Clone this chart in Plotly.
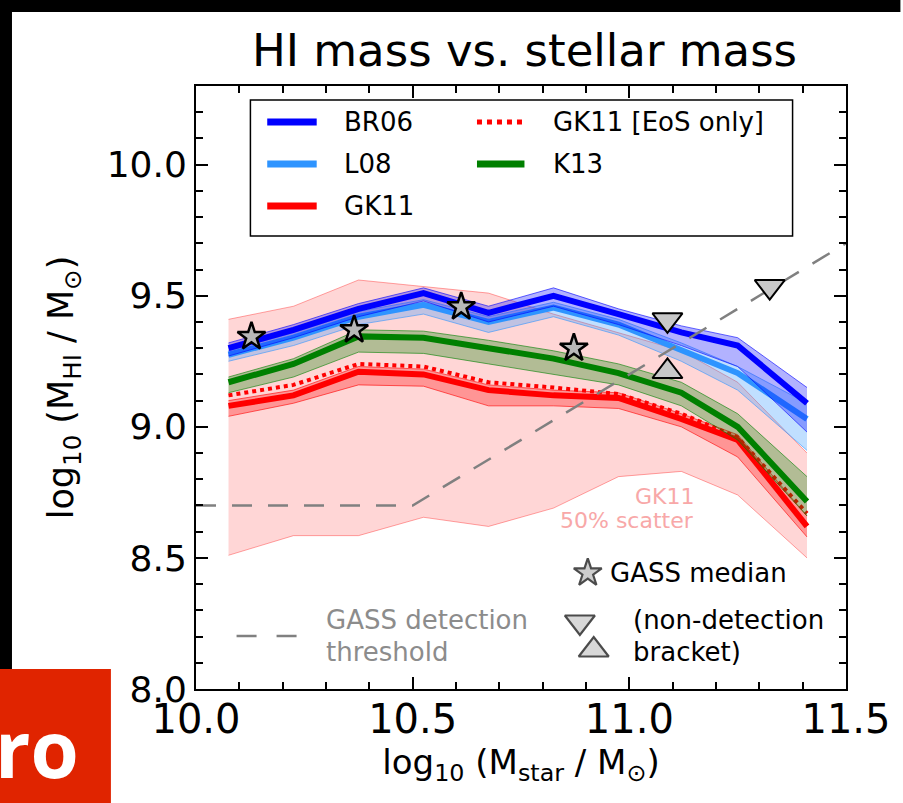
import plotly.graph_objects as go

# ---------------- data ----------------
mstar_bins = [10.075, 10.225, 10.375, 10.525, 10.675, 10.825, 10.975, 11.12, 11.25, 11.41]

gk11_scatter_hi = [9.41, 9.46, 9.56, 9.535, 9.51, 9.43, 9.36, 9.29, 9.17, 8.90]
gk11_scatter_lo = [8.51, 8.585, 8.585, 8.655, 8.62, 8.69, 8.81, 8.83, 8.74, 8.50]

gk11_med = [9.08, 9.12, 9.21, 9.20, 9.14, 9.12, 9.11, 9.03, 8.95, 8.62]
gk11_hi = [9.10, 9.14, 9.23, 9.22, 9.16, 9.14, 9.13, 9.05, 8.97, 8.66]
gk11_lo = [9.04, 9.09, 9.16, 9.155, 9.08, 9.08, 9.07, 9.00, 8.885, 8.58]

gk11_eos = [9.12, 9.16, 9.24, 9.23, 9.17, 9.15, 9.125, 9.05, 8.96, 8.67]

k13_med = [9.17, 9.24, 9.345, 9.34, 9.30, 9.26, 9.205, 9.13, 9.00, 8.715]
k13_hi = [9.19, 9.26, 9.37, 9.365, 9.33, 9.29, 9.24, 9.17, 9.05, 8.81]
k13_lo = [9.13, 9.19, 9.285, 9.28, 9.24, 9.20, 9.16, 9.08, 8.95, 8.66]

l08_med = [9.275, 9.34, 9.42, 9.465, 9.40, 9.455, 9.39, 9.295, 9.205, 9.03]
l08_hi = [9.29, 9.36, 9.44, 9.485, 9.42, 9.475, 9.41, 9.32, 9.23, 9.09]
l08_lo = [9.25, 9.31, 9.39, 9.43, 9.36, 9.42, 9.35, 9.25, 9.14, 8.91]

br06_med = [9.30, 9.37, 9.45, 9.51, 9.435, 9.50, 9.43, 9.36, 9.31, 9.09]
br06_hi = [9.32, 9.39, 9.47, 9.53, 9.46, 9.53, 9.45, 9.385, 9.34, 9.15]
br06_lo = [9.27, 9.34, 9.42, 9.48, 9.40, 9.46, 9.39, 9.31, 9.23, 8.98]

gass_x = [10.128, 10.365, 10.612, 10.872]
gass_y = [9.344, 9.37, 9.458, 9.30]

nondet_hi_x = [11.088, 11.324]
nondet_hi_y = [9.408, 9.535]
nondet_lo_x = [11.088]
nondet_lo_y = [9.211]

thresh_x = [10.0, 10.5, 11.5]
thresh_y = [8.7, 8.7, 9.7]

x_ticks = [10.0, 10.5, 11.0, 11.5]
y_ticks = [8.0, 8.5, 9.0, 9.5, 10.0]

# ---------------- layout geometry (pixels) ----------------
W, H = 903, 803
L, R, T, B = 196, 853, 86, 689
FONT = "DejaVu Sans"


def px(x):
    return (x - L) / (R - L)


def py(y):
    return (B - y) / (B - T)


BLUE = "#0000ff"
LBLUE = "#2e94ff"
RED = "#ff0000"
GREEN = "#008000"
GRAY = "#808080"

fig = go.Figure()


def band(hi, lo, rgb, fill_a, edge_a):
    fig.add_trace(go.Scatter(x=mstar_bins, y=hi, mode="lines",
                             line=dict(color=f"rgba({rgb},{edge_a})", width=1),
                             showlegend=False, hoverinfo="skip"))
    fig.add_trace(go.Scatter(x=mstar_bins, y=lo, mode="lines", fill="tonexty",
                             fillcolor=f"rgba({rgb},{fill_a})",
                             line=dict(color=f"rgba({rgb},{edge_a})", width=1),
                             showlegend=False, hoverinfo="skip"))


# GK11 50% scatter
band(gk11_scatter_hi, gk11_scatter_lo, "255,0,0", 0.16, 0.35)
# GK11
band(gk11_hi, gk11_lo, "255,0,0", 0.3, 0.6)
fig.add_trace(go.Scatter(x=mstar_bins, y=gk11_med, mode="lines", name="GK11",
                         line=dict(color=RED, width=6), showlegend=False))
fig.add_trace(go.Scatter(x=mstar_bins, y=gk11_eos, mode="lines", name="GK11 [EoS only]",
                         line=dict(color=RED, width=4, dash="dot"), showlegend=False))
# K13
band(k13_hi, k13_lo, "0,128,0", 0.3, 0.6)
fig.add_trace(go.Scatter(x=mstar_bins, y=k13_med, mode="lines", name="K13",
                         line=dict(color=GREEN, width=6), showlegend=False))
# L08
band(l08_hi, l08_lo, "46,148,255", 0.3, 0.6)
fig.add_trace(go.Scatter(x=mstar_bins, y=l08_med, mode="lines", name="L08",
                         line=dict(color=LBLUE, width=6), showlegend=False))
# BR06
band(br06_hi, br06_lo, "0,0,255", 0.3, 0.6)
fig.add_trace(go.Scatter(x=mstar_bins, y=br06_med, mode="lines", name="BR06",
                         line=dict(color=BLUE, width=6), showlegend=False))

# GASS detection threshold
fig.add_trace(go.Scatter(x=thresh_x, y=thresh_y, mode="lines", name="GASS detection threshold",
                         line=dict(color=GRAY, width=2.5, dash="20px,16px"), showlegend=False))

# GASS medians and non-detection brackets
fig.add_trace(go.Scatter(x=gass_x, y=gass_y, mode="markers", name="GASS median",
                         marker=dict(symbol="star", size=21, color="#b8b8b8",
                                     line=dict(color="black", width=2.5)),
                         showlegend=False))
fig.add_trace(go.Scatter(x=nondet_hi_x, y=nondet_hi_y, mode="markers", name="non-detection (upper)",
                         marker=dict(symbol="triangle-down", size=26, color="#c8c8c8",
                                     line=dict(color="black", width=2)),
                         showlegend=False))
fig.add_trace(go.Scatter(x=nondet_lo_x, y=nondet_lo_y, mode="markers", name="non-detection (lower)",
                         marker=dict(symbol="triangle-up", size=26, color="#c8c8c8",
                                     line=dict(color="black", width=2)),
                         showlegend=False))

shapes = []
annotations = []

# ---- manual legend (top) ----
shapes.append(dict(type="rect", xref="paper", yref="paper",
                   x0=px(251), x1=px(799), y0=py(236), y1=py(100),
                   line=dict(color="black", width=1.5), fillcolor="white", layer="above"))
legend_items = [
    ("BR06", BLUE, "solid", 268, 318, 344, 122),
    ("L08", LBLUE, "solid", 268, 318, 344, 164),
    ("GK11", RED, "solid", 268, 318, 344, 206),
    ("GK11 [EoS only]", RED, "dot", 480, 528, 555, 122),
    ("K13", GREEN, "solid", 480, 528, 555, 164),
]
for name, col, dash, lx0, lx1, tx, yy in legend_items:
    shapes.append(dict(type="line", xref="paper", yref="paper",
                       x0=px(lx0), x1=px(lx1), y0=py(yy), y1=py(yy),
                       line=dict(color=col, width=5 if dash == "dot" else 7, dash=dash),
                       layer="above"))
    annotations.append(dict(xref="paper", yref="paper", x=px(tx), y=py(yy),
                            xanchor="left", yanchor="middle", text=name, showarrow=False,
                            font=dict(family=FONT, size=26, color="black")))

# ---- in-plot labels ----
annotations.append(dict(xref="paper", yref="paper", x=px(701), y=py(496), xanchor="right",
                        yanchor="middle", text="GK11", showarrow=False,
                        font=dict(family=FONT, size=22, color="#f8a8a8")))
annotations.append(dict(xref="paper", yref="paper", x=px(701), y=py(520), xanchor="right",
                        yanchor="middle", text="50% scatter", showarrow=False,
                        font=dict(family=FONT, size=22, color="#f8a8a8")))

# lower key
shapes.append(dict(type="line", xref="paper", yref="paper", x0=px(237), x1=px(298),
                   y0=py(636), y1=py(636),
                   line=dict(color=GRAY, width=2.5, dash="20px,20px")))
annotations.append(dict(xref="paper", yref="paper", x=px(325), y=py(620), xanchor="left",
                        yanchor="middle", text="GASS detection", showarrow=False,
                        font=dict(family=FONT, size=26, color="#8c8c8c")))
annotations.append(dict(xref="paper", yref="paper", x=px(325), y=py(652), xanchor="left",
                        yanchor="middle", text="threshold", showarrow=False,
                        font=dict(family=FONT, size=26, color="#8c8c8c")))
annotations.append(dict(xref="paper", yref="paper", x=px(612), y=py(573), xanchor="left",
                        yanchor="middle", text="GASS median", showarrow=False,
                        font=dict(family=FONT, size=26, color="black")))
annotations.append(dict(xref="paper", yref="paper", x=px(636), y=py(620), xanchor="left",
                        yanchor="middle", text="(non-detection", showarrow=False,
                        font=dict(family=FONT, size=26, color="black")))
annotations.append(dict(xref="paper", yref="paper", x=px(636), y=py(652), xanchor="left",
                        yanchor="middle", text="bracket)", showarrow=False,
                        font=dict(family=FONT, size=26, color="black")))

# key markers placed in a pixel-space overlay axis
key_x = [592, 584, 598]
key_y = [573, 622, 650]
key_sym = ["star", "triangle-down", "triangle-up"]
fig.add_trace(go.Scatter(x=key_x, y=key_y, xaxis="x2", yaxis="y2", mode="markers",
                         marker=dict(symbol=key_sym, size=[21, 26, 26],
                                     color=["#b8b8b8", "#c8c8c8", "#c8c8c8"],
                                     line=dict(color="black", width=2.2)),
                         showlegend=False, hoverinfo="skip"))

# ---- frame decorations ----
shapes.append(dict(type="rect", xref="paper", yref="paper", x0=px(-5), x1=px(W + 5),
                   y0=py(12), y1=py(-5), line=dict(width=0), fillcolor="black", layer="above"))
shapes.append(dict(type="rect", xref="paper", yref="paper", x0=px(-5), x1=px(10),
                   y0=py(669), y1=py(-5), line=dict(width=0), fillcolor="black", layer="above"))
shapes.append(dict(type="rect", xref="paper", yref="paper", x0=px(-5), x1=px(110),
                   y0=py(H + 5), y1=py(669), line=dict(width=0), fillcolor="#e02400", layer="above"))
annotations.append(dict(xref="paper", yref="paper", x=px(80), y=py(748), xanchor="right",
                        yanchor="middle", text="<b>ro</b>", showarrow=False,
                        font=dict(family="Open Sans", size=78, color="white")))

axis_common = dict(showgrid=False, zeroline=False, showline=True, linecolor="black",
                   linewidth=2, mirror="allticks", ticks="inside", tickcolor="black",
                   tickwidth=1.5, ticklen=12, tickformat=".1f",
                   minor=dict(ticks="inside", ticklen=7, tickwidth=1.5, tickcolor="black", dtick=0.1))

fig.update_layout(
    width=W, height=H,
    margin=dict(l=L, r=W - R, t=T, b=H - B, pad=0),
    paper_bgcolor="white", plot_bgcolor="white",
    font=dict(family=FONT, color="black"),
    title=dict(text="HI mass vs. stellar mass", x=px(528), xref="paper", xanchor="center",
               y=1 - 50 / H, yref="container", yanchor="middle",
               font=dict(family=FONT, size=45, color="black")),
    xaxis=dict(range=[10.0, 11.5], tickvals=x_ticks, tickfont=dict(size=40),
               ticklabelstandoff=-6,
               title=dict(text="log<sub>10</sub> (M<sub>star</sub> / M<sub>⊙</sub>)",
                          font=dict(size=34), standoff=6),
               **axis_common),
    yaxis=dict(range=[8.0, 10.3], tickvals=y_ticks, tickfont=dict(size=36),
               title=dict(text="log<sub>10</sub> (M<sub>HI</sub> / M<sub>⊙</sub>)",
                          font=dict(size=35), standoff=22),
               **axis_common),
    xaxis2=dict(range=[L, R], overlaying="x", visible=False, fixedrange=True),
    yaxis2=dict(range=[B, T], overlaying="y", visible=False, fixedrange=True),
    shapes=shapes, annotations=annotations, showlegend=False,
)

fig.write_html("out.html", config={"displayModeBar": False},
               post_script="document.body.style.margin='0';document.body.style.overflow='hidden';")
